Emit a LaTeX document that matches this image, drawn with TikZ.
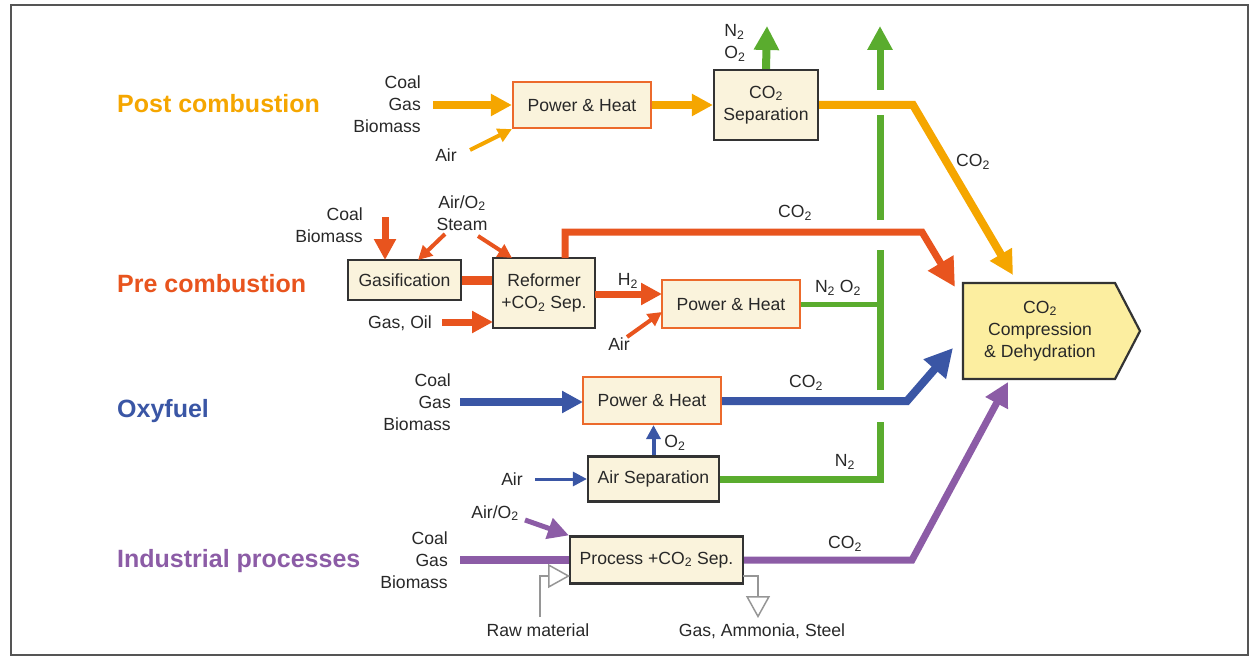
\documentclass[tikz,border=0pt]{standalone}
\usepackage{fontspec}
\setmainfont{Liberation Sans}
\usetikzlibrary{arrows.meta}
\definecolor{cpost}{RGB}{245,166,0}
\definecolor{cpre}{RGB}{232,84,30}
\definecolor{coxy}{RGB}{58,86,165}
\definecolor{cind}{RGB}{140,92,166}
\definecolor{cgreen}{RGB}{90,172,46}
\definecolor{cream}{RGB}{250,243,220}
\definecolor{ccbox}{RGB}{252,238,160}
\definecolor{cdark}{RGB}{51,51,51}
\definecolor{cph}{RGB}{236,106,44}
\definecolor{ctxt}{RGB}{40,40,40}
\definecolor{cframe}{RGB}{85,85,85}
\definecolor{cgray}{RGB}{150,150,150}
\newcommand\lblfont{\fontsize{17.6}{22}\selectfont}
\newcommand\ttlfont{\fontsize{25}{30}\selectfont\bfseries}
\newcommand\sub[1]{\textsubscript{#1}}
\begin{document}
\begin{tikzpicture}[x=1pt,y=-1pt,
  box/.style={draw=cdark, fill=cream, line width=2.2pt, inner sep=0pt, align=center, font=\lblfont, text=ctxt},
  phbox/.style={box, draw=cph},
  lab/.style={font=\lblfont, text=ctxt, inner sep=0pt, align=center},
  ttl/.style={font=\ttlfont, anchor=west, inner sep=0pt, text height=18pt, text depth=0pt},
  fatline/.style={line width=8pt, draw=#1},
  medline/.style={line width=7pt, draw=#1},
  thinline/.style={line width=4pt, draw=#1},
  tipL/.style={-{Triangle[length=24pt,width=24pt]}},
  tipM/.style={-{Triangle[length=21pt,width=21pt]}},
  tipS/.style={-{Triangle[length=14pt,width=14pt]}},
  grayflow/.style={line width=1.5pt, draw=cgray, -{Triangle[open,length=22pt,width=24pt]}},
]
\useasboundingbox (0,0) rectangle (1255,663);
\draw[cframe, line width=2pt] (11,5) rectangle (1248,655);

% ---------- titles
\node[ttl, text=cpost] (tpost) at (117,104) {Post combustion};
\node[ttl, text=cpre] (tpre) at (117,283) {Pre combustion};
\node[ttl, text=coxy] (toxy) at (117,408) {Oxyfuel};
\node[ttl, text=cind] (tind) at (117,558) {Industrial processes};

% ---------- boxes
\node[phbox, minimum width=138pt, minimum height=46pt] (ph1) at (582,105) {Power \& Heat};
\node[box, minimum width=104pt, minimum height=70pt] (sep) at (766,105) {CO\sub{2}\\Separation};
\node[box, minimum width=113pt, minimum height=40pt] (gas) at (404.5,280) {Gasification};
\node[box, minimum width=102pt, minimum height=70pt] (ref) at (544,293) {Reformer\\+CO\sub{2} Sep.};
\node[phbox, minimum width=138pt, minimum height=48pt] (ph2) at (731,304) {Power \& Heat};
\node[phbox, minimum width=138pt, minimum height=47pt] (ph3) at (652,400.5) {Power \& Heat};
\node[box, minimum width=131pt, minimum height=45pt] (asep) at (653.5,479) {Air Separation};
\node[box, minimum width=173pt, minimum height=47pt] (proc) at (656.5,560) {Process +CO\sub{2} Sep.};
\draw[draw=cdark, fill=ccbox, line width=2.2pt] (963,283) -- (1115,283) -- (1140,331) -- (1115,379) -- (963,379) -- cycle;
\node[lab] (cc) at (1040,331) {CO\sub{2}\\Compression\\\& Dehydration};

% ---------- labels
\node[lab, align=right, anchor=east] (postfuel) at (421,104) {Coal\\Gas\\Biomass};
\node[lab] (postair) at (446,155) {Air};
\node[lab, align=left] (n2o2a) at (735,43) {N\sub{2}\\O\sub{2}};
\node[lab] (co2post) at (973,162) {CO\sub{2}};
\node[lab, align=right, anchor=east] (prefuel) at (363,225) {Coal\\Biomass};
\node[lab] (preair) at (462,213) {Air/O\sub{2}\\Steam};
\node[lab] (gasoil) at (400,323) {Gas, Oil};
\node[lab] (co2pre) at (795,213) {CO\sub{2}};
\node[lab] (h2) at (628,281) {H\sub{2}};
\node[lab] (preair2) at (619,344) {Air};
\node[lab] (n2o2b) at (838,288) {N\sub{2} O\sub{2}};
\node[lab, align=right, anchor=east] (oxyfuel) at (451,402) {Coal\\Gas\\Biomass};
\node[lab] (o2oxy) at (675,443) {O\sub{2}};
\node[lab] (oxyair) at (512,479) {Air};
\node[lab] (co2oxy) at (806,383) {CO\sub{2}};
\node[lab] (n2oxy) at (845,462) {N\sub{2}};
\node[lab, align=right, anchor=east] (indfuel) at (448,560) {Coal\\Gas\\Biomass};
\node[lab] (indair) at (495,513) {Air/O\sub{2}};
\node[lab] (co2ind) at (845,544) {CO\sub{2}};
\node[lab] (rawlbl) at (538,630) {Raw material};
\node[lab] (prodlbl) at (762,631) {Gas, Ammonia, Steel};

% ---------- coordinates
\coordinate (postin) at (433,105);
\coordinate (postairs) at (470,150);
\coordinate (postbend) at (913,105);
\coordinate (co2a) at (1013,275);
\coordinate (n2top) at (767,26);
\coordinate (gtop) at (880,26);
\coordinate (g1) at (880,90);
\coordinate (g2) at (880,115);
\coordinate (g3) at (880,220);
\coordinate (g4) at (880,250);
\coordinate (g5) at (880,390);
\coordinate (g6) at (880,422);
\coordinate (g7) at (880,479);
\coordinate (gmid) at (880,304);
\coordinate (coaltop) at (385,217);
\coordinate (coalend) at (385,260);
\coordinate (stA) at (445,234);
\coordinate (stAend) at (418,260);
\coordinate (stB) at (478,236);
\coordinate (stBend) at (512,258);
\coordinate (gosrc) at (442,322);
\coordinate (goend) at (493,322);
\coordinate (refout) at (595,294);
\coordinate (ph2in) at (662,294);
\coordinate (refup) at (565,258);
\coordinate (prebend) at (922,232);
\coordinate (co2b) at (955,287);
\coordinate (pair2s) at (627,337);
\coordinate (pair2e) at (662,312);
\coordinate (oxyin) at (460,402);
\coordinate (oxyinend) at (583,402);
\coordinate (oxybend) at (907,401);
\coordinate (co2c) at (953,348);
\coordinate (oxyairs) at (535,479);
\coordinate (indin) at (460,560);
\coordinate (indairs) at (525,520);
\coordinate (indbend) at (912,560);
\coordinate (co2d) at (1008,382);
\coordinate (raws) at (540,617);
\coordinate (rawin) at (570,576);
\coordinate (pout) at (743,576);
\coordinate (prodend) at (758,618);

% ---------- green exhaust
\draw[medline=cgreen, line cap=butt] (asep.east) -- (g7) -- (g6);
\draw[medline=cgreen] (g5) -- (g4);
\draw[line width=5pt, draw=cgreen] (ph2.east |- gmid) -- (gmid);
\draw[medline=cgreen] (g3) -- (g2);
\draw[medline=cgreen, tipL] (g1) -- (gtop);
\draw[fatline=cgreen, tipL] (sep.north) -- (n2top);

% ---------- post combustion
\draw[fatline=cpost, tipM] (postin) -- (ph1.west);
\draw[thinline=cpost, tipS] (postairs) -- (ph1.south west);
\draw[fatline=cpost, tipM] (ph1.east) -- (sep.west);
\draw[fatline=cpost, line join=miter, tipL] (sep.east) -- (postbend) -- (co2a);

% ---------- pre combustion
\draw[medline=cpre, tipM] (coaltop) -- (coalend);
\draw[thinline=cpre, tipS] (stA) -- (stAend);
\draw[thinline=cpre, tipS] (stB) -- (stBend);
\draw[line width=9pt, draw=cpre] (gas.east) -- (gas.east -| ref.west);
\draw[medline=cpre, tipM] (gosrc) -- (goend);
\draw[medline=cpre, tipM] (refout) -- (ph2in);
\draw[thinline=cpre, tipS] (pair2s) -- (pair2e);
\draw[medline=cpre, line join=miter, -{Triangle[length=28pt,width=28pt]}] (refup) |- (prebend) -- (co2b);

% ---------- oxyfuel
\draw[fatline=coxy, tipM] (oxyin) -- (oxyinend);
\draw[thinline=coxy, tipS] (asep.north) -- (asep.north |- ph3.south);
\draw[line width=3pt, draw=coxy, tipS] (oxyairs) -- (asep.west);
\draw[fatline=coxy, line join=miter, -{Triangle[length=28pt,width=28pt]}] (ph3.east |- oxybend) -- (oxybend) -- (co2c);

% ---------- industrial
\draw[fatline=cind] (indin) -- (proc.west);
\draw[line width=5pt, draw=cind, tipM] (indairs) -- (proc.north west);
\draw[medline=cind, line join=miter, tipL] (proc.east) -- (indbend) -- (co2d);
\draw[grayflow] (raws) |- (rawin);
\draw[grayflow] (pout) -| (prodend);
\end{tikzpicture}
\end{document}
